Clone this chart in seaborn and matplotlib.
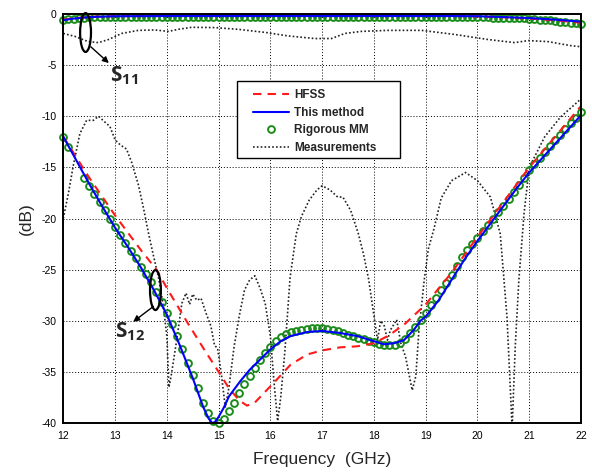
import numpy as np
import pandas as pd
import matplotlib
matplotlib.use("Agg")
import matplotlib.pyplot as plt
from matplotlib.patches import Ellipse, Rectangle
from matplotlib.lines import Line2D
import seaborn as sns

# ---------------- data ----------------
# S12, "This method"
blue12_f = [12.0, 12.25, 12.5, 12.75, 13.0, 13.25, 13.5, 13.75, 14.0, 14.25, 14.5, 14.7,
            14.8, 14.85, 14.88, 14.93, 15.0, 15.1, 15.2, 15.42, 15.6, 15.74, 16.0, 16.2,
            16.39, 16.71, 17.0, 17.35, 17.68, 18.0, 18.19, 18.39, 18.58, 18.77, 18.9,
            19.0, 19.25, 19.5, 19.75, 20.0, 20.25, 20.5, 20.75, 21.0, 21.25, 21.5, 21.75, 22.0]
blue12_v = [-12.0, -14.3, -16.6, -18.8, -20.9, -22.8, -24.8, -27.0, -29.4, -32.4, -35.6, -38.4,
            -39.5, -39.85, -40.0, -39.9, -39.4, -38.5, -37.4, -35.9, -34.8, -34.1, -32.8, -32.0,
            -31.5, -31.1, -31.0, -31.2, -31.5, -32.0, -32.3, -32.2, -31.9, -30.9, -30.0,
            -29.6, -28.0, -26.0, -24.0, -22.2, -20.5, -18.8, -17.1, -15.5, -14.1, -12.7, -11.3, -9.9]

# S12, HFSS
red12_f = [12.0, 12.5, 13.0, 13.5, 13.8, 14.0, 14.4, 14.72, 15.0, 15.2, 15.4, 15.55, 15.7,
           15.85, 16.06, 16.39, 16.71, 17.0, 17.35, 17.68, 18.0, 18.3, 18.6, 19.0, 19.5,
           20.0, 20.5, 21.0, 21.5, 22.0]
red12_v = [-12.0, -16.0, -19.7, -23.1, -25.0, -26.8, -30.2, -32.8, -35.0, -36.6, -37.8, -38.3, -38.0,
           -37.2, -36.1, -34.3, -33.3, -32.9, -32.6, -32.5, -32.2, -31.4, -30.3, -28.4, -25.3,
           -21.8, -18.4, -15.0, -12.0, -9.0]

# S12, Rigorous MM (circles)
green12_f = [12.0, 12.1] + [round(12.4 + 0.1 * i, 1) for i in range(97)]
green12_v = [-12.0, -13.0,
             -16.0, -16.8, -17.6, -18.4, -19.2, -20.0, -20.8, -21.6, -22.4, -23.2,
             -23.9, -24.7, -25.4, -26.2, -27.2, -28.2, -29.2, -30.3, -31.5, -32.8,
             -34.1, -35.3, -36.6, -38.0, -39.0, -39.8, -40.0, -39.6, -38.8, -38.0,
             -37.1, -36.2, -35.4, -34.6, -33.8, -33.2, -32.6, -32.0, -31.6, -31.3,
             -31.1, -31.0, -30.9, -30.8, -30.7, -30.7, -30.7, -30.8, -30.9, -31.0,
             -31.2, -31.4, -31.5, -31.7, -31.8, -32.0, -32.1, -32.3, -32.4, -32.4,
             -32.4, -32.2, -31.8, -31.2, -30.6, -29.9, -29.2, -28.5, -27.8, -27.0,
             -26.3, -25.5, -24.6, -23.8, -23.1, -22.5, -21.9, -21.2, -20.6, -20.0,
             -19.4, -18.8, -18.1, -17.4, -16.7, -16.0, -15.3, -14.7, -14.1, -13.5,
             -12.9, -12.3, -11.8, -11.2, -10.7, -10.2, -9.6]

# S12, Measurements
meas12_f = [12.0, 12.1, 12.19, 12.32, 12.45, 12.58, 12.68, 12.81, 12.9, 13.0, 13.1, 13.22,
            13.32, 13.45, 13.55, 13.64, 13.74, 13.84, 13.93, 14.0, 14.04, 14.08, 14.19, 14.29,
            14.37, 14.44, 14.5, 14.58, 14.66, 14.76, 14.85, 14.92, 14.98, 15.05, 15.13, 15.2,
            15.3, 15.4, 15.5, 15.6, 15.7, 15.8, 15.9, 16.0, 16.07, 16.14, 16.2, 16.28, 16.38,
            16.5, 16.6, 16.75, 16.9, 17.0, 17.15, 17.3, 17.4, 17.55, 17.7, 17.8, 17.9, 18.0,
            18.07, 18.13, 18.2, 18.26, 18.32, 18.44, 18.52, 18.61, 18.74, 18.81, 18.87, 18.97,
            19.05, 19.16, 19.3, 19.5, 19.77, 20.0, 20.25, 20.44, 20.57, 20.67, 20.73, 20.8,
            20.9, 21.0, 21.3, 21.6, 22.0]
meas12_v = [-20.0, -17.5, -14.9, -11.7, -10.4, -10.4, -10.0, -10.6, -11.0, -12.3, -12.8, -13.2,
            -14.5, -16.7, -19.0, -21.3, -23.6, -25.8, -28.5, -31.5, -36.5, -35.5, -31.9, -28.3,
            -27.3, -28.4, -27.4, -28.0, -27.8, -29.3, -30.5, -32.4, -32.7, -35.1, -38.5, -36.5,
            -32.5, -29.5, -27.0, -26.0, -25.6, -26.8, -28.3, -31.5, -36.0, -39.8, -37.5, -33.0, -25.8,
            -21.5, -19.8, -18.2, -17.2, -16.8, -17.2, -17.9, -17.9, -19.2, -21.5, -23.5, -26.0, -29.5,
            -31.9, -30.0, -30.5, -31.9, -30.9, -29.9, -32.2, -33.5, -36.8, -35.4, -30.9, -26.1,
            -23.0, -21.0, -18.0, -16.3, -15.5, -16.3, -17.9, -21.5, -29.6, -40.5, -32.5, -26.0,
            -19.5, -15.0, -12.0, -10.1, -8.3]

# S11 curves
blue11_f = [12.0, 12.2, 12.4, 12.6, 13.0, 14.0, 16.0, 18.0, 19.5, 20.0, 20.5, 21.0, 21.5, 22.0]
blue11_v = [-0.6, -0.45, -0.35, -0.28, -0.22, -0.2, -0.2, -0.2, -0.2, -0.22, -0.3, -0.4, -0.55, -0.75]
red11_f = [12.0, 12.2, 12.4, 12.6, 13.0, 14.0, 16.0, 18.0, 19.5, 20.0, 20.5, 21.0, 21.5, 22.0]
red11_v = [-0.55, -0.42, -0.33, -0.26, -0.21, -0.2, -0.2, -0.2, -0.2, -0.23, -0.32, -0.45, -0.62, -0.85]
green11_f = [round(12.0 + 0.1 * i, 1) for i in range(101)]
green11_v = ([-0.6, -0.5, -0.45, -0.4, -0.36]
             + [-0.28] * 75
             + [-0.3, -0.32, -0.33, -0.35, -0.36, -0.37, -0.38, -0.4, -0.42, -0.44,
                -0.46, -0.5, -0.54, -0.58, -0.63, -0.68, -0.74, -0.8, -0.86, -0.92, -1.0])
meas11_f = [12.0, 12.23, 12.48, 12.68, 12.87, 13.13, 13.45, 13.77, 14.03, 14.22, 14.48, 14.93,
            15.38, 15.9, 16.35, 16.86, 17.18, 17.44, 17.76, 18.28, 18.92, 19.56, 20.21, 20.72,
            20.98, 21.36, 21.81, 22.0]
meas11_v = [-1.9, -2.2, -2.7, -2.8, -2.5, -1.9, -1.6, -1.56, -1.7, -1.5, -1.3, -1.33,
            -1.5, -1.8, -2.15, -2.4, -2.4, -1.9, -1.7, -1.6, -1.6, -2.0, -2.5, -2.8,
            -2.6, -2.7, -3.1, -3.2]

xticks = list(range(12, 23))
yticks = [0, -5, -10, -15, -20, -25, -30, -35, -40]
legend_labels = ["HFSS", "This method", "Rigorous MM", "Measurements"]

# ---------------- style ----------------
sns.set_theme(style="white")
plt.rcParams['font.family'] = ['Liberation Sans', 'DejaVu Sans']
plt.rcParams['axes.unicode_minus'] = False
plt.rcParams['mathtext.default'] = 'regular'

W, H = 592, 472
AX_L, AX_R, AX_T, AX_B = 63.3, 581.0, 14.0, 423.0
fig = plt.figure(figsize=(W / 100, H / 100), dpi=100)
ax = fig.add_axes([AX_L / W, 1 - AX_B / H, (AX_R - AX_L) / W, (AX_B - AX_T) / H])

def axfrac(px, py):
    return ((px - AX_L) / (AX_R - AX_L), (AX_B - py) / (AX_B - AX_T))

RED = '#ff1a1a'
BLUE = '#0000ff'
GREEN = '#1a8c1a'
MEAS = '#222222'
DASH = (0, (4, 3))
DOT = (0, (1, 1.3))
MS = 4.9
MEW = 1.4

def line(fx, vy, **kw):
    df = pd.DataFrame({'f': fx, 'v': vy})
    sns.lineplot(data=df, x='f', y='v', ax=ax, sort=False, estimator=None, **kw)

# measurements
line(meas12_f, meas12_v, color=MEAS, linestyle=DOT, linewidth=1.2)
line(meas11_f, meas11_v, color=MEAS, linestyle=DOT, linewidth=1.2)
# rigorous MM circles
for fx, vy in [(green11_f, green11_v), (green12_f, green12_v)]:
    df = pd.DataFrame({'f': fx, 'v': vy})
    sns.lineplot(data=df, x='f', y='v', ax=ax, sort=False, estimator=None,
                 linestyle='none', marker='o', markersize=MS, markerfacecolor='none',
                 markeredgecolor=GREEN, markeredgewidth=MEW, color=GREEN, clip_on=False)
# HFSS
line(red11_f, red11_v, color=RED, linestyle=DASH, linewidth=1.5)
line(red12_f, red12_v, color=RED, linestyle=DASH, linewidth=1.5)
# This method
line(blue11_f, blue11_v, color=BLUE, linewidth=1.5)
line(blue12_f, blue12_v, color=BLUE, linewidth=1.5)

ax.set_xlim(12, 22)
ax.set_ylim(-40, 0)
ax.set_xticks(xticks)
ax.set_yticks(yticks)
ax.set_xticklabels([str(t) for t in xticks])
ax.set_yticklabels([str(t) for t in yticks])
ax.tick_params(axis='both', direction='in', length=4, width=0.8, labelsize=7.5,
               colors='black', pad=5)
ax.tick_params(axis='x', pad=6)
ax.grid(True, color='black', linestyle=(0, (1, 2)), linewidth=0.7)
for s in ax.spines.values():
    s.set_color('black')
    s.set_linewidth(1.4)
ax.set_xlabel('Frequency  (GHz)', fontsize=12.5, labelpad=8)
ax.set_ylabel('(dB)', fontsize=12.5, labelpad=5)

# annotations
ax.add_patch(Ellipse((12.43, -1.81), 0.21, 3.8, fill=False, edgecolor='black', linewidth=1.6,
                     zorder=6, clip_on=False))
ax.annotate('', xy=(12.88, -4.8), xytext=(12.53, -3.2),
            arrowprops=dict(arrowstyle='-|>', color='black', lw=1.0, mutation_scale=9,
                            shrinkA=0, shrinkB=0), zorder=6)
ax.text(12.9, -6.0, 'S$_{11}$', fontsize=15, fontweight='bold', ha='left', va='center',
        family=['Open Sans', 'DejaVu Sans'], zorder=7)

ax.add_patch(Ellipse((13.78, -27.0), 0.21, 3.9, fill=False, edgecolor='black', linewidth=1.6,
                     zorder=6))
ax.annotate('', xy=(13.35, -30.1), xytext=(13.74, -28.6),
            arrowprops=dict(arrowstyle='-|>', color='black', lw=1.0, mutation_scale=9,
                            shrinkA=0, shrinkB=0), zorder=6)
ax.text(13.0, -31.1, 'S$_{12}$', fontsize=15, fontweight='bold', ha='left', va='center',
        family=['Open Sans', 'DejaVu Sans'], zorder=7)

# legend: frame drawn as a rectangle, entries placed inside it
x0, y0 = axfrac(237, 158)
x1, y1 = axfrac(400, 80.7)
ax.add_patch(Rectangle((x0, y0), x1 - x0, y1 - y0, transform=ax.transAxes,
                       facecolor='white', edgecolor='black', linewidth=1.0, zorder=9))
handles = [
    Line2D([], [], color=RED, linestyle=DASH, linewidth=1.5),
    Line2D([], [], color=BLUE, linewidth=1.5),
    Line2D([], [], color=GREEN, linestyle='none', marker='o', markersize=MS,
           markerfacecolor='none', markeredgewidth=MEW),
    Line2D([], [], color=MEAS, linestyle=DOT, linewidth=1.2),
]
leg = ax.legend(handles, legend_labels, loc='upper left',
                bbox_to_anchor=axfrac(253, 89),
                borderaxespad=0, borderpad=0, frameon=False,
                prop={'weight': 'bold', 'size': 8.5, 'family': 'Liberation Sans'},
                handlelength=3.05, handletextpad=0.42, labelspacing=0.48)
leg.set_zorder(10)

fig.savefig('out.png', dpi=100)
